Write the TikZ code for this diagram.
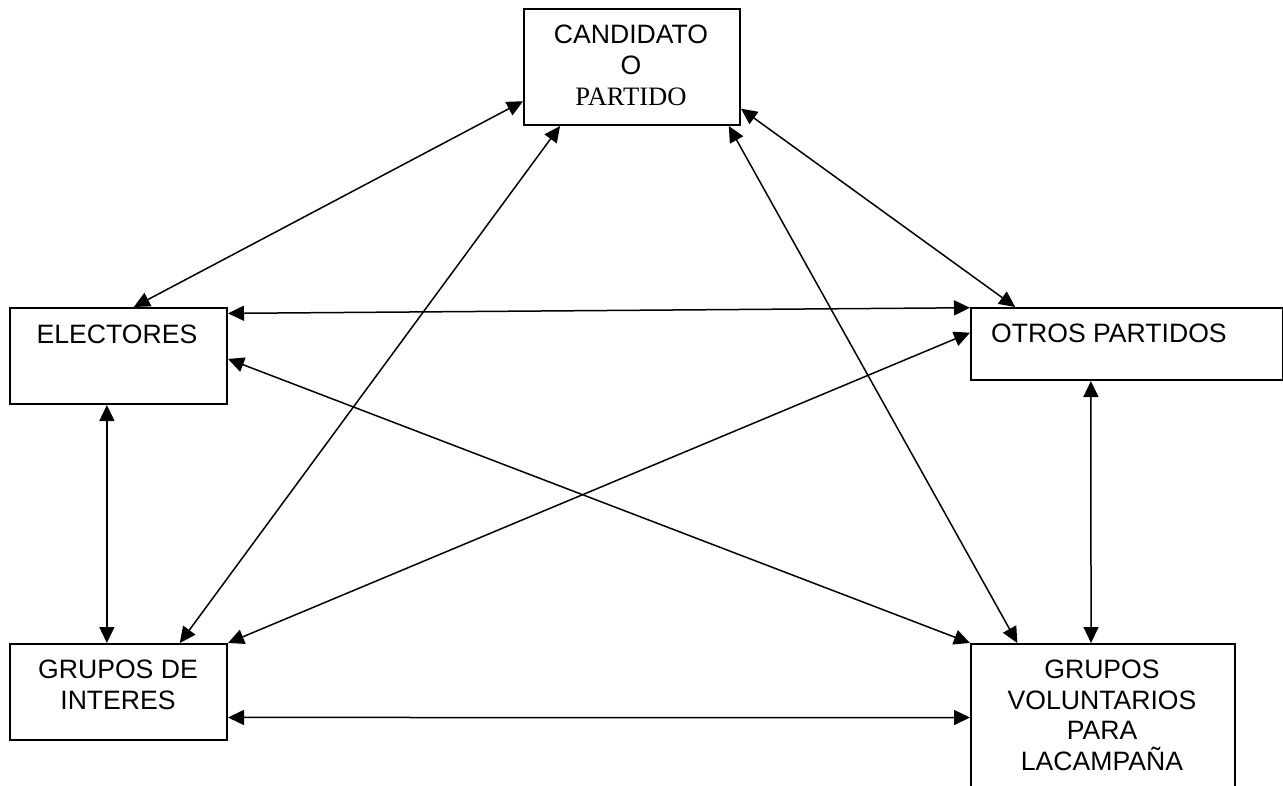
\documentclass[tikz,border=0pt]{standalone}
\usepackage{fontspec}
\setmainfont{Liberation Sans}
\newfontfamily\serifface{Liberation Serif}
\usetikzlibrary{arrows.meta,calc}
\begin{document}
\begin{tikzpicture}[x=1pt,y=-1pt,
  box/.style={draw,line width=2pt,rectangle,inner sep=0pt,anchor=north west},
  lbl/.style={inner sep=0pt,anchor=base,font=\fontsize{26.6}{31}\selectfont},
  link/.style={line width=1.5pt,{Triangle[length=16pt,width=15pt]}-{Triangle[length=16pt,width=15pt]}}]
\useasboundingbox (0,0) rectangle (1283,785);
\clip (0,0) rectangle (1283,785);

% boxes
\node[box,minimum width=216pt,minimum height=116pt] (cand) at (523,8) {};
\node[box,minimum width=217pt,minimum height=96pt] (elec) at (9,307) {};
\node[box,minimum width=312pt,minimum height=72pt] (otros) at (970,307) {};
\node[box,minimum width=217pt,minimum height=96pt] (gint) at (9,643) {};
\node[box,minimum width=264pt,minimum height=160pt] (gvol) at (970,643) {};

% labels
\node[lbl] (c1) at (631,43) {CANDIDATO};
\node[lbl] (c2) at (631,74) {O};
\node[lbl,font=\fontsize{26.6}{31}\selectfont\serifface] (c3) at (631,105) {PARTIDO};
\node[lbl] (e1) at (117,343) {ELECTORES};
\node[lbl,anchor=base west] (o1) at (991,342) {OTROS PARTIDOS};
\node[lbl] (g1) at (118,678) {GRUPOS DE};
\node[lbl] (g2) at (118,709) {INTERES};
\node[lbl] (v1) at (1102,678) {GRUPOS};
\node[lbl] (v2) at (1102,709) {VOLUNTARIOS};
\node[lbl] (v3) at (1102,739) {PARA};
\node[lbl] (v4) at (1102,770) {LACAMPAÑA};

% connectors
\draw[link] ($(cand.north west)!0.79!(cand.south west)$) -- ($(elec.north west)!0.57!(elec.north east)$);
\draw[link] ($(cand.south west)!0.17!(cand.south east)$) -- ($(gint.north west)!0.78!(gint.north east)$);
\draw[link] ($(cand.south west)!0.944!(cand.south east)$) -- ($(gvol.north west)!0.178!(gvol.north east)$);
\draw[link] ($(cand.north east)!0.853!(cand.south east)$) -- ($(otros.north west)!0.144!(otros.north east)$);
\draw[link] ($(elec.north east)!0.065!(elec.south east)$) -- ($(otros.north west)!0.01!(otros.south west)$);
\draw[link] ($(elec.north east)!0.53!(elec.south east)$) -- (gvol.north west);
\draw[link] ($(elec.south west)!0.447!(elec.south east)$) -- ($(gint.north west)!0.447!(gint.north east)$);
\draw[link] ($(otros.north west)!0.347!(otros.south west)$) -- (gint.north east);
\draw[link] ($(otros.south west)!0.385!(otros.south east)$) -- ($(gvol.north west)!0.455!(gvol.north east)$);
\draw[link] ($(gint.north east)!0.76!(gint.south east)$) -- ($(gvol.north west)!0.46!(gvol.south west)$);
\end{tikzpicture}
\end{document}
